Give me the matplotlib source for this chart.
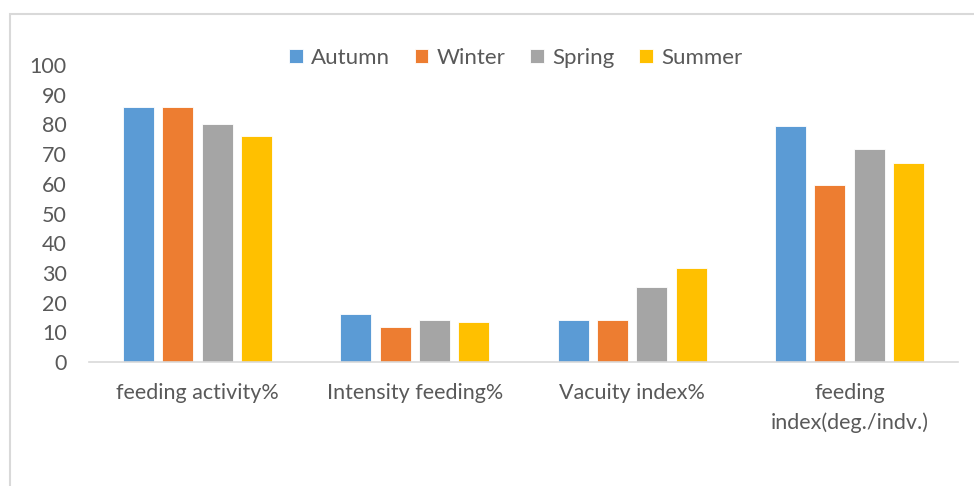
import matplotlib
matplotlib.use("Agg")
import matplotlib.pyplot as plt
import numpy as np
from matplotlib.patches import Rectangle

categories = ["feeding activity%", "Intensity feeding%", "Vacuity index%", "feeding\nindex(deg./indv.)"]
seasons = ["Autumn", "Winter", "Spring", "Summer"]
autumn = [86, 16, 14, 79.6]
winter = [86, 11.7, 14, 59.6]
spring = [80, 14.2, 25.1, 71.7]
summer = [76, 13.5, 31.5, 67]
yticks = [0, 10, 20, 30, 40, 50, 60, 70, 80, 90, 100]

colors = ["#5B9BD5", "#ED7D31", "#A5A5A5", "#FFC000"]
txt = "#595959"

plt.rcParams['font.family'] = ['Lato', 'DejaVu Sans']

W, H = 974, 486
fig = plt.figure(figsize=(W / 100, H / 100), dpi=100)
fig.patches.append(Rectangle((10 / W, -0.1), 1.2, 1 - 14 / H + 0.1, transform=fig.transFigure,
                             fill=False, edgecolor="#d9d9d9", linewidth=1.5))

ax = fig.add_axes([89 / W, 1 - 362 / H, (958 - 89) / W, (362 - 65) / H])
x = np.arange(len(categories))
step = 0.181
width = 0.143
series = [autumn, winter, spring, summer]
for i, (s, name, c) in enumerate(zip(series, seasons, colors)):
    ax.bar(x + (i - 1.5) * step, s, width, color=c, label=name, edgecolor="white", linewidth=0.6)

ax.set_xlim(-0.5, len(categories) - 0.5)
ax.set_ylim(0, 100)
ax.set_yticks(yticks)
ax.set_xticks(x)
ax.set_xticklabels(categories, linespacing=1.55)
for sp in ["top", "right", "left"]:
    ax.spines[sp].set_visible(False)
ax.spines["bottom"].set_color("#d9d9d9")
ax.spines["bottom"].set_linewidth(1.2)
ax.tick_params(axis="both", length=0, labelsize=15.5, labelcolor=txt)
ax.tick_params(axis="y", pad=16)
ax.tick_params(axis="x", pad=15)

leg = fig.legend(loc="center", bbox_to_anchor=(516 / W, 1 - 58 / H), ncol=4, frameon=False,
                 fontsize=16, handlelength=0.6, handleheight=0.6, handletextpad=0.4,
                 columnspacing=1.1, labelcolor=txt)

fig.savefig("out.png", dpi=100)
